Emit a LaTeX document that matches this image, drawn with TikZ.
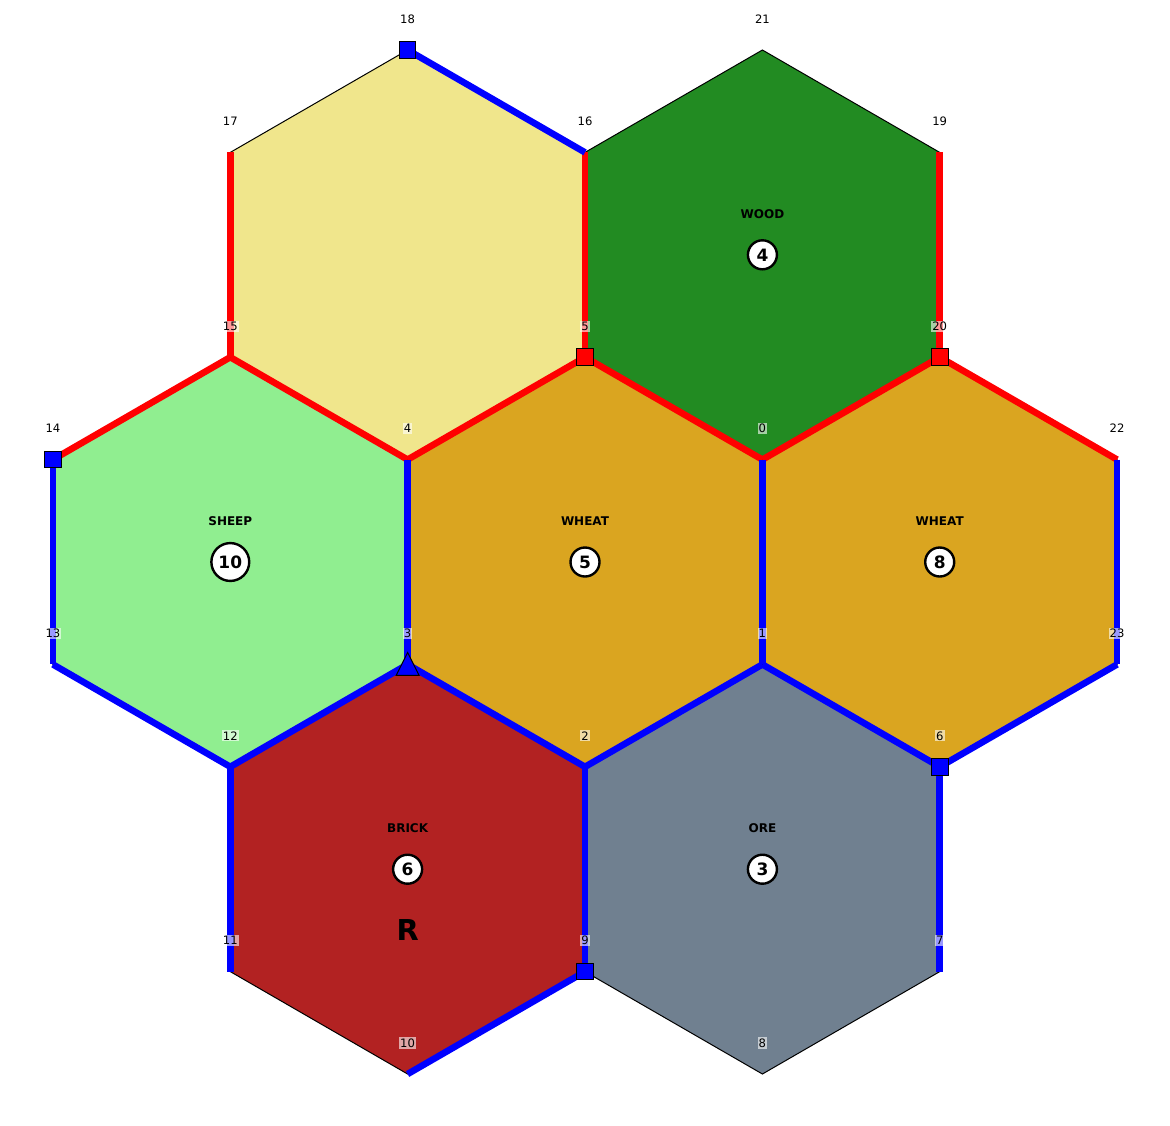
\documentclass[tikz,border=0pt]{standalone}
\usepackage{fontspec}
\setmainfont{DejaVu Sans}
\usetikzlibrary{shapes.geometric,calc}
\definecolor{khakic}{HTML}{F0E68C}
\definecolor{woodc}{HTML}{228B22}
\definecolor{sheepc}{HTML}{90EE90}
\definecolor{wheatc}{HTML}{DAA520}
\definecolor{brickc}{HTML}{B22222}
\definecolor{orec}{HTML}{708090}
\tikzset{
  hexe/.style={draw=black, line width=0.5pt},
  road/.style={line width=3.3pt, line cap=butt},
  redroad/.style={road, draw=red},
  blueroad/.style={road, draw=blue},
  sett/.style={rectangle, draw=black, line width=0.5pt, minimum size=8.3pt, inner sep=0pt},
  citytri/.style={draw=black, line width=0.5pt, fill=blue},
  vlab/.style={fill=white, fill opacity=0.6, text opacity=1, inner sep=0.6pt, font=\fontsize{5.8pt}{6pt}\selectfont},
  reslab/.style={font=\fontsize{6pt}{7pt}\selectfont\bfseries, inner sep=0pt},
  numc/.style={circle, draw=black, line width=1.2pt, fill=white, minimum size=14.5pt, inner sep=2pt, font=\fontsize{8.5pt}{9pt}\selectfont\bfseries},
  robl/.style={font=\fontsize{14.4pt}{16pt}\selectfont\bfseries, inner sep=0pt}
}
\begin{document}
\begin{tikzpicture}[x=0.5pt,y=-0.5pt]
\useasboundingbox (0,0) rectangle (1170,1125);
\foreach \n/\x/\y in {0/762.4/459.6, 1/762.4/664.4, 2/585/766.8, 3/407.6/664.4, 4/407.6/459.6, 5/585/357.2, 6/939.7/766.8, 7/939.7/971.6, 8/762.4/1074, 9/585/971.6, 10/407.6/1074, 11/230.3/971.6, 12/230.3/766.8, 13/52.9/664.4, 14/52.9/459.6, 15/230.3/357.2, 16/585/152.4, 17/230.3/152.4, 18/407.6/50, 19/939.7/152.4, 20/939.7/357.2, 21/762.4/50, 22/1117.1/459.6, 23/1117.1/664.4}
  \coordinate (v\n) at (\x,\y);
% hexes
\foreach \a/\b/\c/\d/\e/\f/\col in {18/16/5/4/15/17/khakic, 21/19/20/0/5/16/woodc, 15/4/3/12/13/14/sheepc, 5/0/1/2/3/4/wheatc, 20/22/23/6/1/0/wheatc, 3/2/9/10/11/12/brickc, 1/6/7/8/9/2/orec}
  \draw[hexe, fill=\col] (v\a) -- (v\b) -- (v\c) -- (v\d) -- (v\e) -- (v\f) -- cycle;
% roads
\foreach \a/\b in {17/15, 16/5, 19/20, 14/15, 15/4, 4/5, 5/0, 0/20, 20/22}
  \draw[redroad] (v\a) -- (v\b);
\foreach \a/\b in {18/16, 14/13, 13/12, 4/3, 0/1, 22/23, 23/6, 3/12, 3/2, 2/1, 1/6, 12/11, 2/9, 6/7, 9/10}
  \draw[blueroad] (v\a) -- (v\b);
% settlements
\node[sett, fill=blue] (s18) at (v18) {};
\node[sett, fill=red] (s5) at (v5) {};
\node[sett, fill=red] (s20) at (v20) {};
\node[sett, fill=blue] (s14) at (v14) {};
\node[sett, fill=blue] (s6) at (v6) {};
\node[sett, fill=blue] (s9) at (v9) {};
% city
\draw[citytri] ($(v3)+(0,-12)$) -- ($(v3)+(11.5,11)$) -- ($(v3)+(-11.5,11)$) -- cycle;
% vertex labels
\foreach \n in {0,...,23}
  \node[vlab] (l\n) at ($(v\n)+(0,-31)$) {\n};
% resources
\node[reslab] (r1) at (762.4,214) {WOOD};
\node[numc] (n1) at (762.4,254.8) {4};
\node[reslab] (r2) at (230.3,521) {SHEEP};
\node[numc] (n2) at (230.3,562) {10};
\node[reslab] (r3) at (585,521) {WHEAT};
\node[numc] (n3) at (585,562) {5};
\node[reslab] (r4) at (939.7,521) {WHEAT};
\node[numc] (n4) at (939.7,562) {8};
\node[reslab] (r5) at (407.6,828) {BRICK};
\node[numc] (n5) at (407.6,869.2) {6};
\node[robl] (rob) at (407.6,930) {R};
\node[reslab] (r6) at (762.4,828) {ORE};
\node[numc] (n6) at (762.4,869.2) {3};
\end{tikzpicture}
\end{document}
